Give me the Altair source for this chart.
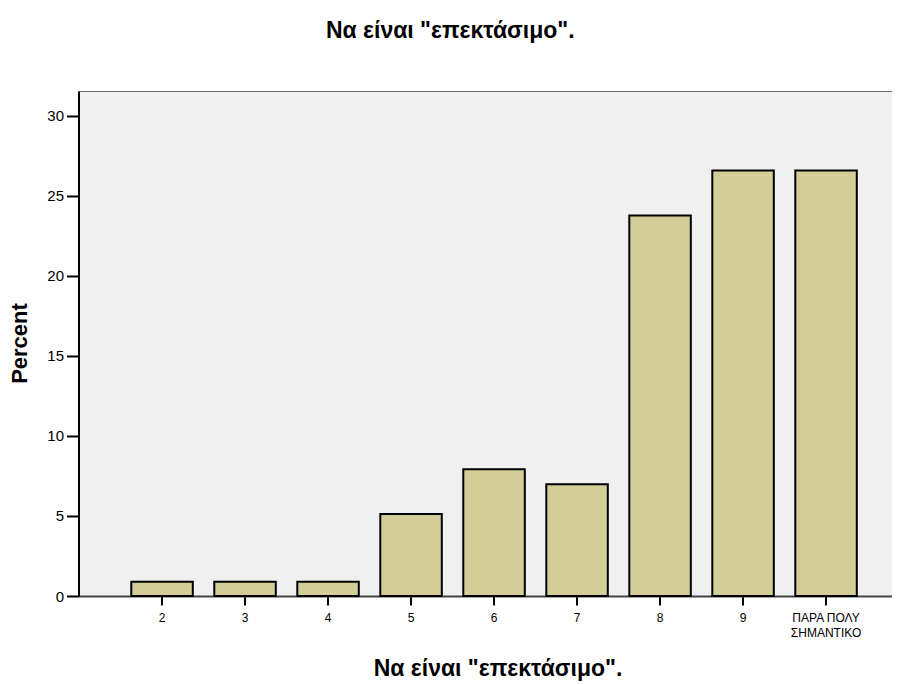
import altair as alt
import pandas as pd

categories = ["2", "3", "4", "5", "6", "7", "8", "9", "ΠΑΡΑ ΠΟΛΥ ΣΗΜΑΝΤΙΚΟ"]
percents = [0.89, 0.89, 0.89, 5.13, 7.92, 6.98, 23.78, 26.59, 26.59]
y_ticks = [0, 5, 10, 15, 20, 25, 30]

df = pd.DataFrame({"cat": categories, "pct": percents})

FONT = "Liberation Sans, Arial, sans-serif"
TITLE = 'Να είναι "επεκτάσιμο".'

chart = alt.Chart(df).mark_bar(
    fill="#D3CE98", stroke="#000000", strokeWidth=2
).encode(
    x=alt.X(
        "cat:N",
        sort=categories,
        scale=alt.Scale(paddingInner=0.259, paddingOuter=0.53, align=0.6),
        axis=alt.Axis(
            title=TITLE,
            titleFont=FONT, titleFontSize=23, titleFontWeight="bold", titleColor="#000",
            titleX=419, titleY=79, titleBaseline="alphabetic", titleAnchor="start", titleAlign="center",
            labelAngle=0, labelFont=FONT, labelFontSize=12, labelColor="#000",
            labelPadding=7, labelLineHeight=15,
            labelExpr="datum.label == 'ΠΑΡΑ ΠΟΛΥ ΣΗΜΑΝΤΙΚΟ' ? ['ΠΑΡΑ ΠΟΛΥ', 'ΣΗΜΑΝΤΙΚΟ'] : datum.label",
            tickColor="#000", tickWidth=2, tickSize=9,
            domainColor="#444444", domainWidth=2,
            grid=False,
        ),
    ),
    y=alt.Y(
        "pct:Q",
        scale=alt.Scale(domain=[0, 31.56], nice=False, zero=True),
        axis=alt.Axis(
            title="Percent",
            titleFont=FONT, titleFontSize=22, titleFontWeight="bold", titleColor="#000",
            titleX=-59, titleY=252, titleBaseline="middle", titleAngle=-90, titleAlign="center",
            values=y_ticks, labelFont=FONT, labelFontSize=15, labelColor="#000",
            labelPadding=3,
            tickColor="#000", tickWidth=2, tickSize=12,
            domainColor="#000", domainWidth=2,
            grid=False,
        ),
    ),
).properties(
    width=813.5,
    height=505,
    padding={"left": 70.5, "top": 83, "right": 0, "bottom": 85},
    autosize=alt.AutoSizeParams(type="none"),
    background="#FFFFFF",
    title=alt.TitleParams(
        text=TITLE, font=FONT, fontSize=23, fontWeight="bold", color="#000",
        anchor="middle", frame="bounds", baseline="alphabetic", offset=30,
    ),
).configure_view(
    fill="#F0F0F0", stroke="#707070", strokeWidth=1
)

chart.save("out.html", embed_options={"renderer": "svg", "actions": False})
